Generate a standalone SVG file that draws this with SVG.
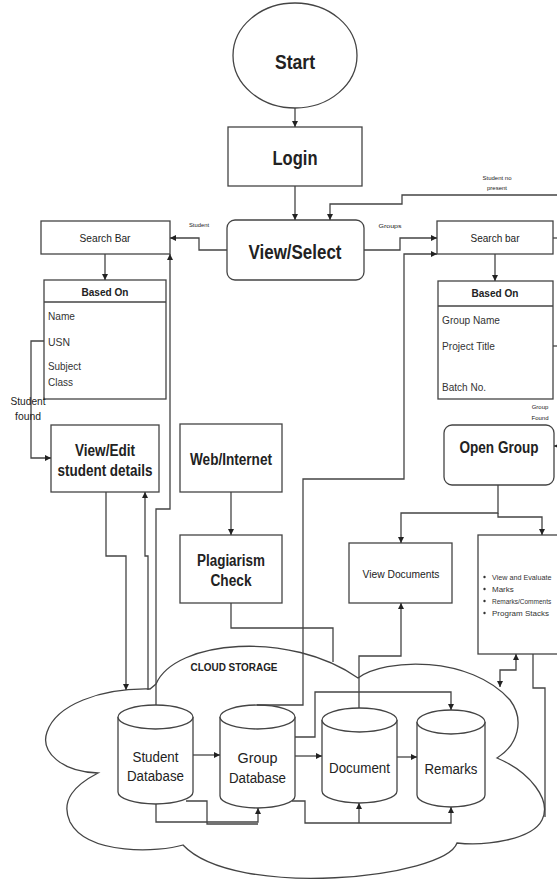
<svg xmlns="http://www.w3.org/2000/svg" width="557" height="885" viewBox="0 0 557 885">
<defs>
<marker id="ah" viewBox="0 0 10 10" refX="10" refY="5" markerWidth="6" markerHeight="6" orient="auto-start-reverse" markerUnits="userSpaceOnUse">
<path d="M0,0 L10,5 L0,10 z" fill="#222"/>
</marker>
<style>
.b{fill:#fff;stroke:#444;stroke-width:1.3}
.c{fill:none;stroke:#444;stroke-width:1.3}
.a{marker-end:url(#ah)}
.t{font-family:"Liberation Sans",Arial,sans-serif;fill:#222;text-anchor:middle}
.l{font-family:"Liberation Sans",Arial,sans-serif;fill:#333}
.bold{font-weight:bold}
</style>
</defs>
<rect width="557" height="885" fill="#fff"/>

<g id="cloud">
<path class="c" d="M156,684 C175,640 290,630 358,678 C385,658 470,655 510,700 C525,720 518,745 497,758 C530,772 552,800 542,820 C532,840 485,846 457,843 C445,878 235,900 183,845 C160,852 88,856 70,822 C60,800 75,785 98,773 C62,772 40,752 47,732 C56,705 100,688 150,689 Z"/>
<text class="t bold" x="234" y="671" font-size="10.5" textLength="87" lengthAdjust="spacingAndGlyphs">CLOUD STORAGE</text>
</g>

<g id="start">
<ellipse class="b" cx="295" cy="55.5" rx="62" ry="52.5"/>
<text class="t bold" x="295" y="69" font-size="20" textLength="40" lengthAdjust="spacingAndGlyphs">Start</text>
</g>
<g id="login">
<rect class="b" x="228" y="127" width="134" height="59"/>
<text class="t bold" x="295" y="165" font-size="20" textLength="45" lengthAdjust="spacingAndGlyphs">Login</text>
</g>
<g id="viewselect">
<rect class="b" x="227" y="220" width="137" height="60" rx="8"/>
<text class="t bold" x="295" y="259" font-size="20" textLength="93" lengthAdjust="spacingAndGlyphs">View/Select</text>
</g>

<g id="searchbar-left">
<rect class="b" x="41" y="221" width="129" height="33"/>
<text class="t" x="105" y="242" font-size="11" textLength="51" lengthAdjust="spacingAndGlyphs">Search Bar</text>
</g>
<g id="basedon-left">
<rect class="b" x="44" y="280" width="122" height="119"/>
<line class="c" x1="44" y1="302" x2="166" y2="302"/>
<text class="t bold" x="105" y="296" font-size="11" textLength="47" lengthAdjust="spacingAndGlyphs">Based On</text>
<text class="l" x="48" y="320" font-size="11" textLength="27" lengthAdjust="spacingAndGlyphs">Name</text>
<text class="l" x="48" y="346" font-size="11" textLength="22" lengthAdjust="spacingAndGlyphs">USN</text>
<text class="l" x="48" y="370" font-size="11" textLength="33" lengthAdjust="spacingAndGlyphs">Subject</text>
<text class="l" x="48" y="386" font-size="11" textLength="25" lengthAdjust="spacingAndGlyphs">Class</text>
</g>
<g id="viewedit">
<rect class="b" x="51" y="425" width="108" height="67"/>
<text class="t bold" x="105" y="456" font-size="16" textLength="60" lengthAdjust="spacingAndGlyphs">View/Edit</text>
<text class="t bold" x="105" y="476" font-size="16" textLength="95" lengthAdjust="spacingAndGlyphs">student details</text>
</g>
<g id="web">
<rect class="b" x="180" y="424" width="102" height="68"/>
<text class="t bold" x="231" y="465" font-size="16" textLength="82" lengthAdjust="spacingAndGlyphs">Web/Internet</text>
</g>
<g id="plagiarism">
<rect class="b" x="180" y="535" width="102" height="68"/>
<text class="t bold" x="231" y="566" font-size="16" textLength="68" lengthAdjust="spacingAndGlyphs">Plagiarism</text>
<text class="t bold" x="231" y="586" font-size="16" textLength="41" lengthAdjust="spacingAndGlyphs">Check</text>
</g>

<g id="searchbar-right">
<rect class="b" x="437" y="221" width="116" height="33"/>
<text class="t" x="495" y="242" font-size="11" textLength="49" lengthAdjust="spacingAndGlyphs">Search bar</text>
</g>
<g id="basedon-right">
<rect class="b" x="438" y="281" width="115" height="118"/>
<line class="c" x1="438" y1="306" x2="553" y2="306"/>
<text class="t bold" x="495" y="297" font-size="11" textLength="47" lengthAdjust="spacingAndGlyphs">Based On</text>
<text class="l" x="442" y="324" font-size="11" textLength="58" lengthAdjust="spacingAndGlyphs">Group Name</text>
<text class="l" x="442" y="350" font-size="11" textLength="53" lengthAdjust="spacingAndGlyphs">Project Title</text>
<text class="l" x="442" y="391" font-size="11" textLength="44" lengthAdjust="spacingAndGlyphs">Batch No.</text>
</g>
<g id="opengroup">
<rect class="b" x="444" y="425" width="110" height="60" rx="8"/>
<text class="t bold" x="499" y="453" font-size="16" textLength="79" lengthAdjust="spacingAndGlyphs">Open Group</text>
</g>
<g id="viewdocs">
<rect class="b" x="349" y="543" width="103" height="60"/>
<text class="t" x="401" y="578" font-size="11" textLength="77" lengthAdjust="spacingAndGlyphs">View Documents</text>
</g>
<g id="evaluate">
<rect class="b" x="478" y="535" width="90" height="119"/>
<g class="l" font-size="8">
<circle cx="484.5" cy="577" r="1.2" fill="#333"/><text x="492" y="580" font-size="7.2">View and Evaluate</text>
<circle cx="484.5" cy="589" r="1.2" fill="#333"/><text x="492" y="592">Marks</text>
<circle cx="484.5" cy="601" r="1.2" fill="#333"/><text x="492" y="604" font-size="6.5">Remarks/Comments</text>
<circle cx="484.5" cy="613" r="1.2" fill="#333"/><text x="492" y="616">Program Stacks</text>
</g>
</g>

<g id="studentdb">
<path class="b" d="M118,717 L118,792 A37.5,12 0 0 0 193,792 L193,717"/>
<ellipse class="b" cx="155.5" cy="717" rx="37.5" ry="12"/>
<text class="t" x="155.5" y="762" font-size="14" textLength="46" lengthAdjust="spacingAndGlyphs">Student</text>
<text class="t" x="155.5" y="781" font-size="14" textLength="57" lengthAdjust="spacingAndGlyphs">Database</text>
</g>
<g id="groupdb">
<path class="b" d="M220,717 L220,796 A37.5,12 0 0 0 295,796 L295,717"/>
<ellipse class="b" cx="257.5" cy="717" rx="37.5" ry="12"/>
<text class="t" x="257.5" y="763" font-size="14" textLength="40" lengthAdjust="spacingAndGlyphs">Group</text>
<text class="t" x="257.5" y="783" font-size="14" textLength="57" lengthAdjust="spacingAndGlyphs">Database</text>
</g>
<g id="document">
<path class="b" d="M322,720 L322,791 A37.5,12 0 0 0 397,791 L397,720"/>
<ellipse class="b" cx="359.5" cy="720" rx="37.5" ry="12"/>
<text class="t" x="359.5" y="773" font-size="14" textLength="61" lengthAdjust="spacingAndGlyphs">Document</text>
</g>
<g id="remarks">
<path class="b" d="M417,722 L417,795 A34,12 0 0 0 485,795 L485,722"/>
<ellipse class="b" cx="451" cy="722" rx="34" ry="12"/>
<text class="t" x="451" y="774" font-size="14" textLength="53" lengthAdjust="spacingAndGlyphs">Remarks</text>
</g>

<g id="connectors">
<path class="c a" d="M295,108 L295,127"/>
<path class="c a" d="M295,186 L295,220"/>
<path class="c a" d="M227,250 L199,250 L199,238 L170,238"/>
<path class="c a" d="M364,250 L400,250 L400,238 L437,238"/>
<path class="c a" d="M557,195 L402,195 L402,204 L330,204 L330,220"/>
<path class="c a" d="M105,254 L105,280"/>
<path class="c a" d="M44,341 L31,341 L31,458 L51,458"/>
<path class="c a" d="M106,492 L106,556 L126,556 L126,690"/>
<path class="c a" d="M148,690 L148,556 L145,556 L145,492"/>
<path class="c a" d="M156,705 L156,509 L170,509 L170,254"/>
<path class="c a" d="M231,492 L231,535"/>
<path class="c" d="M231,603 L231,628 L333,628 L333,662"/>
<path class="c a" d="M257,705 L303,705 L303,479 L404,479 L404,254 L437,254"/>
<path class="c a" d="M495,254 L495,281"/>
<path class="c" d="M553,238 L557,238"/>
<path class="c" d="M553,346 L557,346"/>
<path class="c a" d="M562,446 L554,446"/>
<path class="c a" d="M498,485 L498,513 L401,513 L401,543"/>
<path class="c a" d="M498,513 L498,517 L542,517 L542,535"/>
<path class="c a" d="M359,708 L359,656 L401,656 L401,603"/>
<path class="c a" d="M295,737 L315,737 L315,692 L451,692 L451,710"/>
<path class="c a" d="M193,755 L220,755"/>
<path class="c a" d="M295,756 L322,756"/>
<path class="c a" d="M397,757 L417,757"/>
<path class="c a" d="M156,804 L156,822 L258,822 L258,808"/>
<path class="c" d="M186,801 L207,801 L207,824 L258,824"/>
<path class="c a" d="M292,801 L305,801 L305,823 L451,823 L451,807"/>
<path class="c a" d="M359,823 L359,803"/>
<path class="c a" d="M500,687 L500,670 L516,670 L516,654" style="marker-start:url(#ah)"/>
<path class="c" d="M533,654 L533,688 L545,688 L545,817"/>
</g>

<g id="labels" class="t" font-size="6">
<text x="199" y="227" textLength="20" lengthAdjust="spacingAndGlyphs">Student</text>
<text x="390" y="228" textLength="23" lengthAdjust="spacingAndGlyphs">Groups</text>
<text x="497" y="180">Student no</text>
<text x="497" y="190">present</text>
<text x="540" y="409">Group</text>
<text x="540" y="420">Found</text>
<text x="28" y="405" font-size="11" textLength="35" lengthAdjust="spacingAndGlyphs">Student</text>
<text x="28" y="420" font-size="11" textLength="26" lengthAdjust="spacingAndGlyphs">found</text>
</g>
</svg>
